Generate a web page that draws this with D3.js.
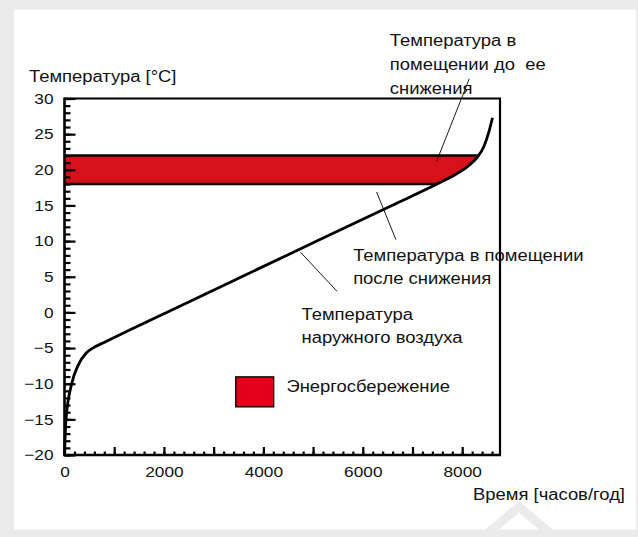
<!DOCTYPE html>
<html>
<head>
<meta charset="utf-8">
<script src="https://cdn.jsdelivr.net/npm/d3@7"></script>
<style>
  html, body { margin: 0; padding: 0; background: #ebebeb; }
  svg { display: block; }
  text { font-family: "Liberation Sans", Arial, Helvetica, sans-serif; fill: #111; white-space: pre; }
</style>
</head>
<body>
<svg id="chart" width="638" height="537"></svg>
<script>
// Outdoor air temperature duration curve (hours per year at or below a temperature)
const hours       = [0, 30, 145, 268, 437, 570, 805, 1300, 2054, 3564, 5075, 6586, 7493, 7855, 8116, 8297, 8438, 8539, 8609];
const outdoorTemp = [-20, -15, -10, -7.5, -5.7, -5.0, -4.2, -2.5, 0, 5, 10, 15, 18.0, 19.3, 20.5, 21.7, 23.3, 25.4, 27.3];

// Indoor set points before and after the setback
const indoorBefore = 22;
const indoorAfter = 18;

// Axis ticks
const yMajorTicks = [-20, -15, -10, -5, 0, 5, 10, 15, 20, 25, 30];
const xMajorTicks = [0, 1000, 2000, 3000, 4000, 5000, 6000, 7000, 8000];
const xLabelTicks = [0, 2000, 4000, 6000, 8000];

// Texts
const yTitle = "Температура [°C]";
const xTitle = "Время [часов/год]";
const legendLabel = "Энергосбережение";
const annotations = [
  { lines: ["Температура в", "помещении до  ее", "снижения"], at: [6545, 37.35], lineGap: 24,
    from: [8142, 32.77], to: [7485, 21.19] },
  { lines: ["Температура в помещении", "после снижения"], at: [5806, 7.15], lineGap: 22.5,
    from: [6277, 16.9], to: [6666, 10.2] },
  { lines: ["Температура", "наружного воздуха"], at: [4767, -1.04], lineGap: 23.3,
    from: [4752, 8.41], to: [5484, 2.94] }
];
const legendAt = [3444, -9.04];

const W = 638, H = 537;
const TEXT_STRETCH = 1.15;
const BAND = "#d7111b", LEGEND_RED = "#e2001a";

const svg = d3.select("#chart");

// Panel background and decoration
svg.append("rect").attr("width", W).attr("height", H).attr("fill", "#ebebeb");
svg.append("rect").attr("x", 14).attr("y", 9.5).attr("width", 622).attr("height", 520).attr("fill", "#fff");
svg.append("path")
  .attr("d", "M477,542 L519,507 L561,542")
  .attr("fill", "none").attr("stroke", "#ebebeb").attr("stroke-width", 9);

const x = d3.scaleLinear().domain([0, 8760]).range([64.5, 500]);
const y = d3.scaleLinear().domain([-20, 30]).range([455, 98.5]);

const pts = hours.map((h, i) => [h, outdoorTemp[i]]);

// Region to the left of (above) the outdoor curve
const clipArea = d3.area()
  .x(d => x(d[0])).y0(y(30)).y1(d => y(d[1]))
  .curve(d3.curveMonotoneX);
svg.append("clipPath").attr("id", "leftOfCurve")
  .append("path").attr("d", clipArea(pts));

const band = svg.append("g").attr("clip-path", "url(#leftOfCurve)");
band.append("rect")
  .attr("x", x(0)).attr("width", x(8760) - x(0))
  .attr("y", y(indoorBefore)).attr("height", y(indoorAfter) - y(indoorBefore))
  .attr("fill", BAND);
[indoorBefore, indoorAfter].forEach(t => {
  band.append("line")
    .attr("x1", x(0)).attr("x2", x(8760))
    .attr("y1", y(t)).attr("y2", y(t))
    .attr("stroke", "#000").attr("stroke-width", 2.6);
});

// Outdoor temperature curve
const line = d3.line().x(d => x(d[0])).y(d => y(d[1])).curve(d3.curveMonotoneX);
svg.append("path").attr("d", line(pts))
  .attr("fill", "none").attr("stroke", "#000").attr("stroke-width", 2.8)
  .attr("stroke-linejoin", "round");

// Axes with inward ticks
const fontFam = '"Liberation Sans", Arial, Helvetica, sans-serif';
const yMinor = svg.append("g").attr("transform", `translate(${x(0)},0)`)
  .call(d3.axisLeft(y).tickValues(d3.range(-20, 31, 1)).tickSizeInner(-6).tickSizeOuter(0).tickFormat(""));
const yMajor = svg.append("g").attr("transform", `translate(${x(0)},0)`)
  .call(d3.axisLeft(y).tickValues(yMajorTicks).tickSizeInner(-11).tickSizeOuter(0).tickPadding(11));
const xMinor = svg.append("g").attr("transform", `translate(0,${y(-20)})`)
  .call(d3.axisBottom(x).tickValues(d3.range(0, 8601, 200)).tickSizeInner(-3.5).tickSizeOuter(0).tickFormat(""));
const xMajor = svg.append("g").attr("transform", `translate(0,${y(-20)})`)
  .call(d3.axisBottom(x).tickValues(xMajorTicks).tickSizeInner(-8).tickSizeOuter(0).tickPadding(11)
    .tickFormat(d => xLabelTicks.includes(d) ? d : ""));
[yMinor, yMajor, xMinor, xMajor].forEach(g => {
  g.select(".domain").remove();
  g.selectAll(".tick line").attr("stroke", "#000").attr("stroke-width", 2.2);
  g.attr("font-family", fontFam).attr("font-size", 15);
  g.selectAll(".tick text").attr("fill", "#111");
});

// Plot frame
svg.append("path")
  .attr("d", `M${x(0)},${y(30)} H${x(8760)} V${y(-20)}`)
  .attr("fill", "none").attr("stroke", "#000").attr("stroke-width", 2.2);
svg.append("path")
  .attr("d", `M${x(0)},${y(30) - 1} V${y(-20)} H${x(8760) + 1}`)
  .attr("fill", "none").attr("stroke", "#000").attr("stroke-width", 2.6);

// Axis titles
svg.append("text").attr("x", 29).attr("y", 82).attr("font-size", 16).text(yTitle);
svg.append("text").attr("x", 625).attr("y", 500).attr("text-anchor", "end").attr("font-size", 16).text(xTitle);

// Annotations with leader lines
annotations.forEach(a => {
  svg.append("line")
    .attr("x1", x(a.from[0])).attr("y1", y(a.from[1]))
    .attr("x2", x(a.to[0])).attr("y2", y(a.to[1]))
    .attr("stroke", "#000").attr("stroke-width", 0.9);
  const t = svg.append("text").attr("font-size", 16);
  a.lines.forEach((s, i) => {
    t.append("tspan").attr("x", x(a.at[0])).attr("y", y(a.at[1]) + i * a.lineGap).text(s);
  });
});

// Legend
svg.append("rect")
  .attr("x", x(legendAt[0])).attr("y", y(legendAt[1]))
  .attr("width", 38).attr("height", 30)
  .attr("fill", LEGEND_RED).attr("stroke", "#000").attr("stroke-width", 1.3);
svg.append("text").attr("x", x(legendAt[0]) + 50.7).attr("y", y(legendAt[1]) + 15)
  .attr("font-size", 16).text(legendLabel);

// Widen glyphs slightly to the proportions of the original lettering
svg.selectAll("text, tspan").each(function () {
  const n = this;
  if (n.tagName === "text" && n.querySelector("tspan")) return;
  const len = n.getComputedTextLength();
  if (len > 0) {
    n.setAttribute("textLength", len * TEXT_STRETCH);
    n.setAttribute("lengthAdjust", "spacingAndGlyphs");
  }
});
</script>
</body>
</html>
